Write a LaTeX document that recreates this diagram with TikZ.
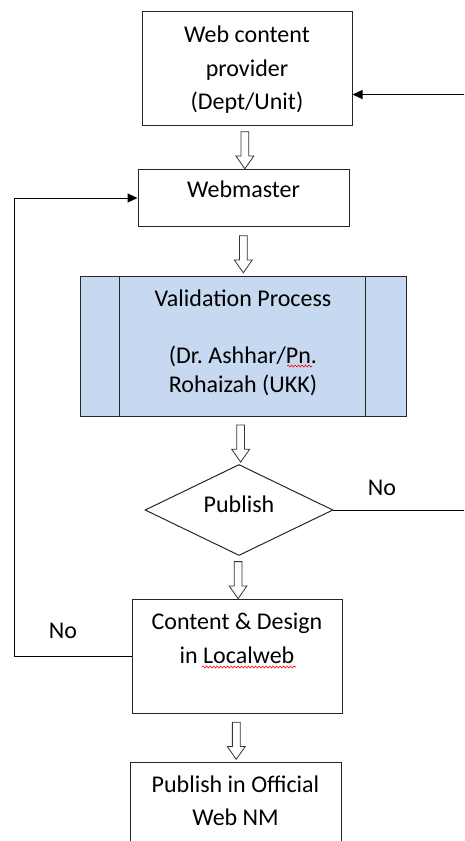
\documentclass[tikz,border=0pt]{standalone}
\usepackage{fontspec}
\setmainfont{Carlito}
\usepackage{xcolor}
\usetikzlibrary{arrows.meta, positioning, calc, graphs, shapes.geometric, shapes.arrows, decorations.pathmorphing}
\definecolor{procblue}{HTML}{C6D9F1}
\frenchspacing
\tikzset{
>={Triangle[length=10pt,width=9pt]},
black!75,
text=black,
backloop/.style={to path={-- ++(#1,0) |- (\tikztotarget)}},
box/.style={%
    rectangle,
    draw=black!85,
    line width=1pt,
    align=center,
    inner xsep=4pt,
    inner ysep=0pt,
},
process/.style={%
    box, fill=procblue, minimum width=326pt,
},
decision/.style={%
    diamond, draw=black!85, line width=1pt,
    minimum width=188pt, minimum height=91pt, inner sep=0pt,
    text height=10pt, text depth=5pt,
},
blockarrow/.style={%
    single arrow, draw=black!80, fill=white, line width=0.8pt,
    shape border rotate=270,
    minimum height=37pt, minimum width=17pt, inner sep=3.5pt,
    single arrow head extend=5pt, single arrow tip angle=70,
},
spellmark/.style={red, line width=0.6pt, decorate, decoration={snake, amplitude=1pt, segment length=3.5pt}},
lbl/.style={inner sep=0pt},
}

\begin{document}
\begin{tikzpicture}[x=1pt, y=-1pt, font=\fontsize{24}{33.5}\selectfont]
	\useasboundingbox (0,0) rectangle (464,841);
	\clip (0,0) rectangle (464,841);
	\node[box, anchor=north, minimum width=210pt, text height=98pt, text depth=16pt] (prov) at (247,11)
		{Web content\\provider\\(Dept/Unit)};
	\node[box, below=43pt of prov, xshift=-3.5pt, minimum width=211pt, text height=28pt, text depth=29pt] (web)
		{Webmaster};
	\node[process, below=49pt of web, xshift=-0.5pt, text height=116pt, text depth=24pt,
		font=\fontsize{24}{29}\selectfont] (valid)
		{Validation Process\\[28pt](Dr.\ Ashhar/Pn.\\Rohaizah (UKK)};
	\node[decision, below=47pt of valid, xshift=-4pt] (dec) {Publish};
	\node[box, below=43pt of dec, xshift=-2pt, minimum width=210pt, text height=63.5pt, text depth=50.5pt] (cont)
		{Content \& Design\\in Localweb};
	\node[box, below=48pt of cont, xshift=-1.5pt, minimum width=211pt, text height=63pt, text depth=57pt] (pub)
		{Publish in Official\\Web NM};
	\node[lbl] (noright) at (382,488) {No};
	\node[lbl] (noleft) at (63,631) {No};
	\coordinate (provin) at ([yshift=-26pt]prov.east);

	% side bars of the process box
	\draw[black!85, line width=1pt] ([xshift=39.5pt]valid.north west) -- ([xshift=39.5pt]valid.south west);
	\draw[black!85, line width=1pt] ([xshift=-41.5pt]valid.north east) -- ([xshift=-41.5pt]valid.south east);

	% spell check marks
	\draw[spellmark] (287,366) -- (312,366);
	\draw[spellmark] (202,667) -- (296,667);

	\path (prov) -- node[blockarrow] (a1) {} (web);
	\path (web) -- node[blockarrow] (a2) {} (valid);
	\path (valid) -- node[blockarrow] (a3) {} (dec);
	\path (dec) -- node[blockarrow] (a4) {} (cont);
	\path (cont) -- node[blockarrow] (a5) {} (pub);

\graph [use existing nodes, edges={line width=1pt}] {
dec ->[backloop=231] provin;
cont ->[backloop=-223] web;
};
\end{tikzpicture}
\end{document}
